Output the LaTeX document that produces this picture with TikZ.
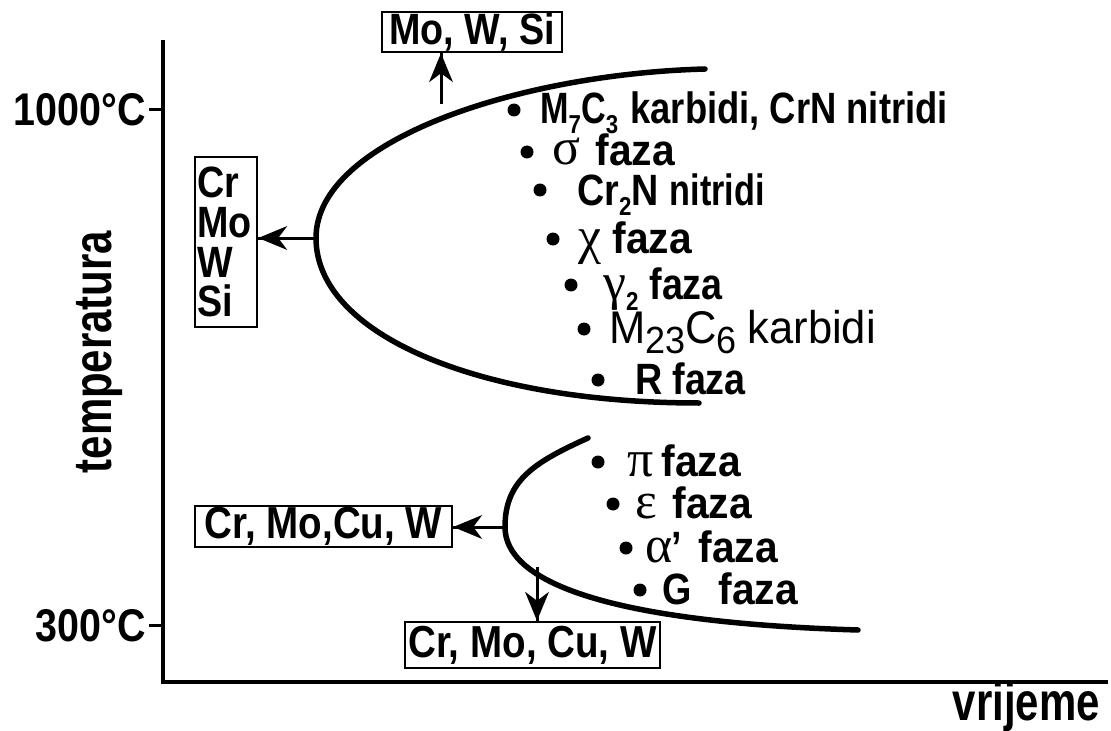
\documentclass[tikz,border=0pt]{standalone}
\usepackage{fontspec}
\usepackage{graphicx}
\newfontfamily\lab{Liberation Sans}[FakeStretch=0.78]
\newfontfamily\labm{Liberation Sans}[FakeStretch=0.83]
\newfontfamily\labw{Liberation Sans}[FakeStretch=0.86]
\newfontfamily\labf{Liberation Sans}[FakeStretch=0.93]
\newfontfamily\labr{Liberation Sans}[FakeStretch=0.95]
\newfontfamily\grk{Liberation Serif}
\newcommand\lsub[1]{\raisebox{-0.22em}{\fontsize{26}{26}\selectfont\labw\bfseries #1}}
\newcommand\bsub[1]{\raisebox{-0.22em}{\fontsize{38}{38}\selectfont\labr\mdseries #1}}
\tikzset{
  txt/.style={font=\fontsize{44}{44}\selectfont\labw\bfseries, anchor=base west, inner sep=0},
  txtr/.style={txt, anchor=base east},
  fz/.style={font=\fontsize{44}{44}\selectfont\labf\bfseries, anchor=base east, inner sep=0},
  fzn/.style={font=\fontsize{44}{44}\selectfont\labw\bfseries, anchor=base east, inner sep=0},
  gtxt/.style={font=\fontsize{52}{52}\selectfont\grk, anchor=base west, inner sep=0},
  axlbl/.style={font=\fontsize{46}{46}\selectfont\labw\bfseries, inner sep=0},
  ttl/.style={font=\fontsize{54}{54}\selectfont\lab\bfseries, inner sep=0},
  box/.style={draw, line width=2.5bp, inner sep=0, font=\fontsize{44}{40}\selectfont\labw\bfseries},
  wbox/.style={box, font=\fontsize{45}{40}\selectfont\labw\bfseries},
  curve/.style={line width=5.5bp, line cap=round},
  axis/.style={line width=3.5bp},
  conn/.style={line width=3bp},
  tip/.style={fill, line join=miter},
  bul/.style={circle, fill, inner sep=0, minimum size=13bp}
}
\begin{document}
\begin{tikzpicture}[x=1bp,y=-1bp]
\useasboundingbox (0,0) rectangle (1111,731);
% axes
\coordinate (ytop) at (163,40);
\coordinate (orig) at (163,682);
\coordinate (xend) at (1108,682);
\draw[axis] (ytop) -- (orig) -- (xend);
\coordinate (t1a) at (149,110); \coordinate (t1b) at (163,110);
\coordinate (t2a) at (149,625); \coordinate (t2b) at (163,625);
\draw[line width=3bp] (t1a) -- (t1b);
\draw[line width=3bp] (t2a) -- (t2b);
\node[axlbl, anchor=base east] (l1000) at (146,126) {1000°C};
\node[axlbl, anchor=base east] (l300) at (146,641) {300°C};
\node[ttl, rotate=90] (ylab) at (100,352) {temperatura};
\node[ttl, anchor=base east] (xlab) at (1100,720) {vrijeme};
% upper C-curve
\draw[curve] (705,69) .. controls (520,74) and (316,140) .. (316,238)
             .. controls (316,335) and (480,403) .. (699,403);
\coordinate (cu1) at (441,104);
\coordinate (cu2) at (316,238);
% lower curve
\draw[curve] (588,438) .. controls (535,462) and (505,480) .. (505,527)
             .. controls (505,580) and (600,622) .. (858,630);
\coordinate (cl1) at (505,527);
\coordinate (cl2) at (537,567);
% boxes
\node[box, minimum width=180bp, minimum height=40bp] (bx1) at (472,32) {Mo, W, Si};
\node[box, minimum width=62bp, minimum height=170bp, align=left, text width=58bp] (bx2) at (226,242) {Cr\\Mo\\W\\Si};
\node[wbox, minimum width=257bp, minimum height=41bp] (bx3) at (323.5,526.5) {Cr, Mo,Cu, W};
\node[wbox, minimum width=255bp, minimum height=46bp] (bx4) at (532.5,645) {Cr, Mo, Cu, W};
% connectors with stealth-like heads
\draw[conn] (cu1) -- (cu1 |- bx1.south);
\fill[tip] (cu1 |- bx1.south) -- ++(-12,29) -- ++(12,-9) -- ++(12,9) -- cycle;
\draw[conn] (cu2) -- (cu2 -| bx2.east);
\fill[tip] (cu2 -| bx2.east) -- ++(29,-12) -- ++(-9,12) -- ++(9,12) -- cycle;
\draw[conn] (cl1) -- (cl1 -| bx3.east);
\fill[tip] (cl1 -| bx3.east) -- ++(29,-12) -- ++(-9,12) -- ++(9,12) -- cycle;
\draw[conn] (cl2) -- (cl2 |- bx4.north);
\fill[tip] (cl2 |- bx4.north) -- ++(-12,-29) -- ++(12,9) -- ++(12,-9) -- cycle;
% phases upper
\node[bul] (d1) at (514,110) {};
\node[txt, font=\fontsize{44}{44}\selectfont\lab\bfseries] (p1a) at (540,124) {M\lsub{7}C\lsub{3}};
\node[txtr, font=\fontsize{44}{44}\selectfont\labm\bfseries] (p1b) at (948,124) {karbidi, CrN nitridi};
\node[bul] (d2) at (527,152) {};
\node[gtxt] (p2a) at (552,165) {σ};
\node[fz] (p2b) at (675,166) {faza};
\node[bul] (d3) at (540,190) {};
\node[txt] (p3a) at (577,206) {Cr\lsub{2}N};
\node[txtr, font=\fontsize{44}{44}\selectfont\lab\bfseries] (p3b) at (765,206) {nitridi};
\node[bul] (d4) at (553,239) {};
\node[gtxt] (p4a) at (578,253) {χ};
\node[fz] (p4b) at (692,253) {faza};
\node[bul] (d5) at (571,285) {};
\node[gtxt] (p5a) at (603,299) {γ\lsub{2}};
\node[fzn] (p5b) at (723,299) {faza};
\node[bul] (d6) at (584,329) {};
\node[txt, font=\fontsize{46}{46}\selectfont\labr\mdseries] (p6a) at (609,343) {M\bsub{23}C\bsub{6}};
\node[txtr, font=\fontsize{46}{46}\selectfont\labr\mdseries] (p6b) at (876,343) {karbidi};
\node[bul] (d7) at (598,380) {};
\node[txt] (p7a) at (635,394) {R};
\node[fzn] (p7b) at (746,394) {faza};
% phases lower
\node[bul] (d8) at (598,462) {};
\node[gtxt] (p8a) at (627,476) {π};
\node[fz] (p8b) at (741,476) {faza};
\node[bul] (d9) at (613,504) {};
\node[gtxt] (p9a) at (635,518) {ε};
\node[fz] (p9b) at (752,518) {faza};
\node[bul] (d10) at (626,548) {};
\node[gtxt] (p10a) at (645,562) {α\kern-1bp{\fontsize{44}{44}\selectfont\labw\bfseries ’}};
\node[fz] (p10b) at (778,562) {faza};
\node[bul] (d11) at (640,590) {};
\node[txt] (p11a) at (662,604) {G};
\node[fz] (p11b) at (798,604) {faza};
\end{tikzpicture}
\end{document}
